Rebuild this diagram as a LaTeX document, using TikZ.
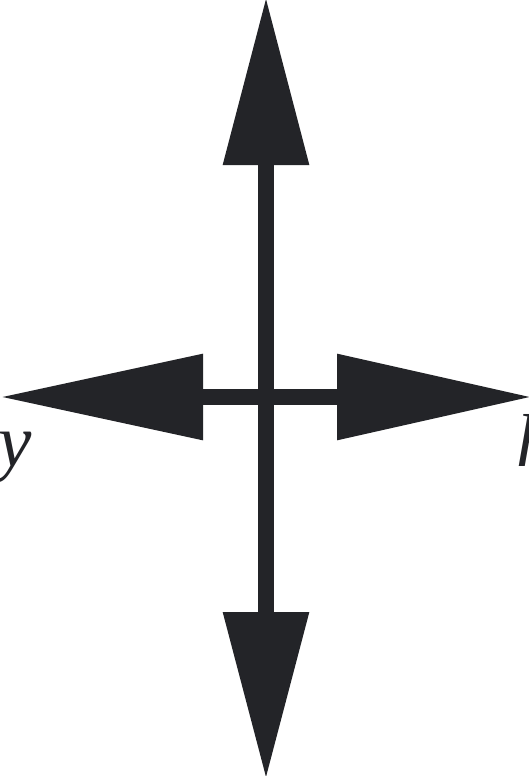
\documentclass[tikz,border=0pt]{standalone}
\usepackage{fontspec}
\setmainfont{Liberation Serif}
\usetikzlibrary{arrows.meta}
\definecolor{inkdark}{HTML}{232428}

\begin{document}
\begin{tikzpicture}[x=1pt, y=-1pt,
    axis/.style={draw=inkdark, line width=16pt},
    tiparr/.style={-{Triangle[length=#1, width=82pt]}},
    lbl/.style={inner sep=0pt, anchor=base west, font=\fontsize{75}{75}\selectfont\itshape, text=inkdark}]
    \useasboundingbox (0,0) rectangle (529,776);
    \clip (0,0) rectangle (529,776);

    % Centre and tips
    \coordinate (c) at (266,397);
    \coordinate (up) at (266,-3);
    \coordinate (down) at (266,779);
    \coordinate (left) at (0,397);
    \coordinate (right) at (532,397);

    % Axes with heads
    \draw[axis, tiparr=168pt] (c) -- (up);
    \draw[axis, tiparr=167pt] (c) -- (down);
    \draw[axis, tiparr=203pt] (c) -- (left);
    \draw[axis, tiparr=195pt] (c) -- (right);

    % Labels
    \node[lbl] (ylbl) at (-2,466) {y};
    \node[lbl] (hlbl) at (516,466) {h};
\end{tikzpicture}
\end{document}
